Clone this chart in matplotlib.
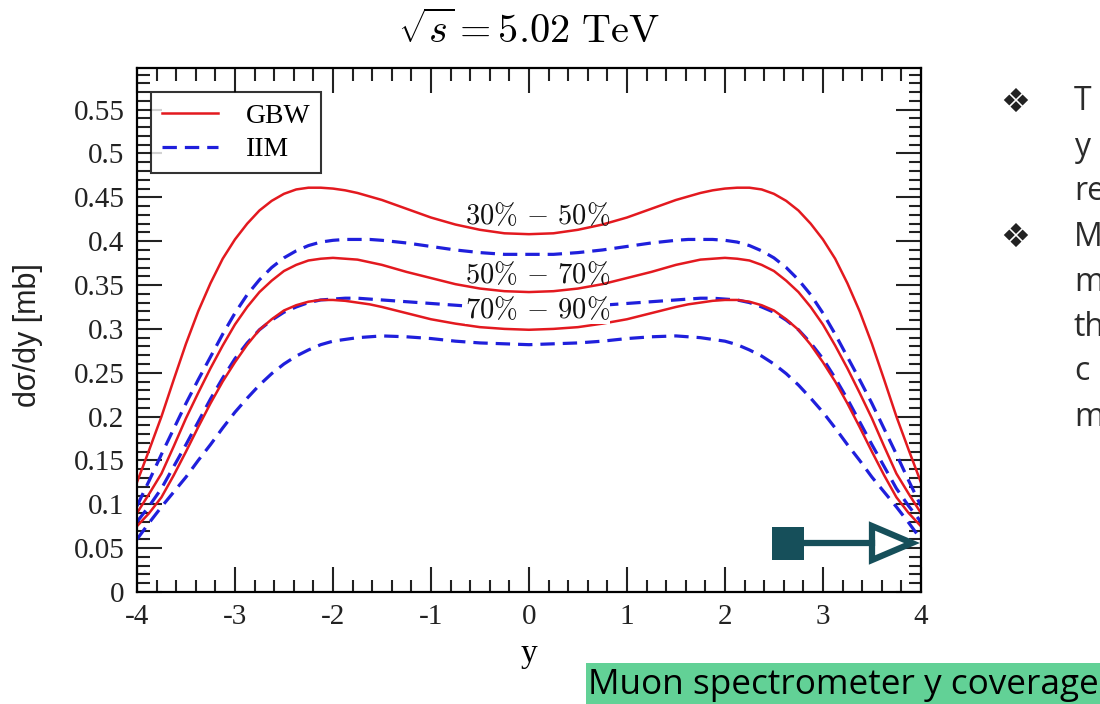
import numpy as np
import matplotlib.pyplot as plt
from matplotlib.patches import Rectangle, Polygon
from matplotlib.lines import Line2D
from matplotlib.ticker import MultipleLocator

plt.rcParams['mathtext.fontset'] = 'cm'
plt.rcParams['axes.unicode_minus'] = False

# rapidity grid (denser where the curves bend)
rapidity = [-4.0, -3.875, -3.75, -3.625, -3.5, -3.375, -3.25, -3.125, -3.0, -2.875, -2.75, -2.625, -2.5, -2.375,
            -2.25, -2.125, -2.0, -1.875, -1.75, -1.625, -1.5, -1.25, -1.0, -0.75, -0.5, -0.25,
            0.0, 0.25, 0.5, 0.75, 1.0, 1.25, 1.5, 1.625, 1.75, 1.875, 2.0, 2.125, 2.25, 2.375,
            2.5, 2.625, 2.75, 2.875, 3.0, 3.125, 3.25, 3.375, 3.5, 3.625, 3.75, 3.875, 4.0]

# dsigma/dy [mb], GBW (solid red) and IIM (dashed blue) per centrality class
gbw_30_50 = [0.125, 0.162, 0.200, 0.242, 0.283, 0.320, 0.352, 0.380, 0.402, 0.420, 0.435, 0.446, 0.454, 0.459,
             0.461, 0.461, 0.460, 0.458, 0.455, 0.451, 0.447, 0.437, 0.427, 0.419, 0.413, 0.409,
             0.408, 0.409, 0.413, 0.419, 0.427, 0.437, 0.447, 0.451, 0.455, 0.458, 0.460, 0.461, 0.461, 0.459,
             0.454, 0.446, 0.435, 0.420, 0.402, 0.380, 0.352, 0.320, 0.283, 0.242, 0.200, 0.162, 0.125]
iim_30_50 = [0.098, 0.127, 0.157, 0.186, 0.215, 0.242, 0.268, 0.294, 0.318, 0.339, 0.356, 0.370, 0.381, 0.389,
             0.395, 0.399, 0.401, 0.402, 0.402, 0.402, 0.401, 0.398, 0.394, 0.390, 0.387, 0.385,
             0.385, 0.385, 0.387, 0.390, 0.394, 0.398, 0.401, 0.402, 0.402, 0.402, 0.401, 0.399, 0.395, 0.389,
             0.381, 0.370, 0.356, 0.339, 0.318, 0.294, 0.268, 0.242, 0.215, 0.186, 0.157, 0.127, 0.098]
gbw_50_70 = [0.090, 0.112, 0.135, 0.166, 0.198, 0.227, 0.255, 0.281, 0.305, 0.325, 0.342, 0.355, 0.366, 0.373,
             0.378, 0.380, 0.381, 0.380, 0.379, 0.376, 0.373, 0.365, 0.358, 0.351, 0.346, 0.343,
             0.342, 0.343, 0.346, 0.351, 0.358, 0.365, 0.373, 0.376, 0.379, 0.380, 0.381, 0.380, 0.378, 0.373,
             0.366, 0.355, 0.342, 0.325, 0.305, 0.281, 0.255, 0.227, 0.198, 0.166, 0.135, 0.112, 0.090]
iim_50_70 = [0.080, 0.098, 0.118, 0.143, 0.168, 0.194, 0.220, 0.244, 0.266, 0.284, 0.299, 0.310, 0.319, 0.325,
             0.330, 0.333, 0.334, 0.335, 0.335, 0.334, 0.333, 0.331, 0.329, 0.327, 0.325, 0.324,
             0.324, 0.324, 0.325, 0.327, 0.329, 0.331, 0.333, 0.334, 0.335, 0.335, 0.334, 0.333, 0.330, 0.325,
             0.319, 0.310, 0.299, 0.284, 0.266, 0.244, 0.220, 0.194, 0.168, 0.143, 0.118, 0.098, 0.080]
gbw_70_90 = [0.075, 0.090, 0.108, 0.133, 0.160, 0.188, 0.215, 0.240, 0.262, 0.282, 0.299, 0.311, 0.321, 0.327,
             0.331, 0.333, 0.333, 0.332, 0.330, 0.328, 0.325, 0.318, 0.311, 0.306, 0.302, 0.300,
             0.299, 0.300, 0.302, 0.306, 0.311, 0.318, 0.325, 0.328, 0.330, 0.332, 0.333, 0.333, 0.331, 0.327,
             0.321, 0.311, 0.299, 0.282, 0.262, 0.240, 0.215, 0.188, 0.160, 0.133, 0.108, 0.090, 0.075]
iim_70_90 = [0.060, 0.079, 0.097, 0.114, 0.131, 0.150, 0.168, 0.187, 0.205, 0.221, 0.236, 0.249, 0.260, 0.269,
             0.276, 0.282, 0.286, 0.288, 0.290, 0.291, 0.292, 0.291, 0.289, 0.286, 0.284, 0.283,
             0.282, 0.283, 0.284, 0.286, 0.289, 0.291, 0.292, 0.291, 0.290, 0.288, 0.286, 0.282, 0.276, 0.269,
             0.260, 0.249, 0.236, 0.221, 0.205, 0.187, 0.168, 0.150, 0.131, 0.114, 0.097, 0.079, 0.060]

class_labels = [r'$30\%\,-\,50\%$', r'$50\%\,-\,70\%$', r'$70\%\,-\,90\%$']
label_y = [0.429, 0.361, 0.321]
label_box = [False, False, True]

bullet_lines = ['T', 'y', 're', 'M', 'm', 'th', 'c', 'm']

red = '#e3191f'
blue = '#1f1fdc'
teal = '#164f5a'

fig = plt.figure(figsize=(11, 7.04), dpi=100)
ax = fig.add_axes([0.1245, 0.1591, 0.7127, 0.7437])

dash = (0, (4.5, 2.5))
ax.plot(rapidity, gbw_30_50, color=red, lw=1.8, label='GBW')
ax.plot(rapidity, iim_30_50, color=blue, lw=2.3, ls=dash, label='IIM')
ax.plot(rapidity, gbw_50_70, color=red, lw=1.8)
ax.plot(rapidity, iim_50_70, color=blue, lw=2.3, ls=dash)
ax.plot(rapidity, gbw_70_90, color=red, lw=1.8)
ax.plot(rapidity, iim_70_90, color=blue, lw=2.3, ls=dash)

for txt, yy, boxed in zip(class_labels, label_y, label_box):
    t = ax.text(0.09, yy, txt, fontsize=20.5, ha='center', va='center', zorder=5, color='#111111')
    if boxed:
        t.set_bbox(dict(facecolor='white', edgecolor='none', pad=0.1))

ax.set_xlim(-4, 4)
ax.set_ylim(0, 0.597)
ax.xaxis.set_major_locator(MultipleLocator(1))
ax.xaxis.set_minor_locator(MultipleLocator(0.2))
ax.yaxis.set_minor_locator(MultipleLocator(0.01))
ax.set_yticks(np.arange(0, 0.56, 0.05))
ax.set_yticklabels(['0', '0.05', '0.1', '0.15', '0.2', '0.25', '0.3', '0.35', '0.4', '0.45', '0.5', '0.55'])
ax.tick_params(which='both', direction='in', top=True, right=True, width=1.5, color='#222222')
ax.tick_params(which='major', length=18, pad=9)
ax.tick_params(which='minor', length=9)
for lab in ax.get_xticklabels() + ax.get_yticklabels():
    lab.set_family('Liberation Serif')
    lab.set_fontsize(21)
    lab.set_color('#222222')
for sp in ax.spines.values():
    sp.set_linewidth(1.6)

ax.set_xlabel('y', family='Liberation Serif', fontsize=24)
ax.xaxis.set_label_coords(0.5, -0.088)
ax.set_ylabel('dσ/dy [mb]', family='Liberation Sans', fontsize=22, color='#222222')
ax.yaxis.set_label_coords(-0.12, 0.49)

leg = ax.legend(loc='upper left', bbox_to_anchor=(0.018, 0.955), borderaxespad=0, fancybox=False,
                prop={'family': 'Liberation Serif', 'size': 20}, handlelength=2.0, handletextpad=1.0,
                labelspacing=0.3, borderpad=0.4)
leg.get_frame().set_edgecolor('black')
leg.get_frame().set_linewidth(1.5)

fig.text(0.481, 0.955, r'$\sqrt{s} = 5.02\ \mathrm{TeV}$', fontsize=29, ha='center', va='center')

# bullets on the right of the slide (cut by the slide edge, as in the original)
for i, t in enumerate(bullet_lines):
    yy = 1 - (102 + 45 * i) / 704
    fig.text(1074 / 1100, yy, t, family='Open Sans', fontsize=23, color='#2b2b2b', ha='left', va='center')
for yy in [102, 237]:
    fig.text(1015 / 1100, 1 - yy / 704, '❖', family='DejaVu Sans', fontsize=24, color='#222222',
             ha='center', va='center')

# arrow marking the muon spectrometer coverage
W, H = 1100, 704
fig.patches.append(Rectangle((772 / W, 1 - 560 / H), 32 / W, 33 / H, transform=fig.transFigure,
                             facecolor=teal, edgecolor='none'))
fig.lines.append(Line2D([804 / W, 872 / W], [1 - 543 / H, 1 - 543 / H], transform=fig.transFigure,
                        color=teal, lw=4.5))
fig.patches.append(Polygon([(872 / W, 1 - 526 / H), (872 / W, 1 - 560 / H), (912 / W, 1 - 543 / H)],
                           closed=True, transform=fig.transFigure, facecolor='white', edgecolor=teal, lw=4.5,
                           joinstyle='miter'))

# green caption box
fig.patches.append(Rectangle((586 / W, 0), 1 - 586 / W, 41 / H, transform=fig.transFigure,
                             facecolor='#62d196', edgecolor='none'))
fig.text(588 / W, 1 - 685 / H, 'Muon spectrometer y coverage', family='Open Sans', fontsize=25.3,
         color='black', ha='left', va='center')

fig.savefig('out.png', dpi=100)
